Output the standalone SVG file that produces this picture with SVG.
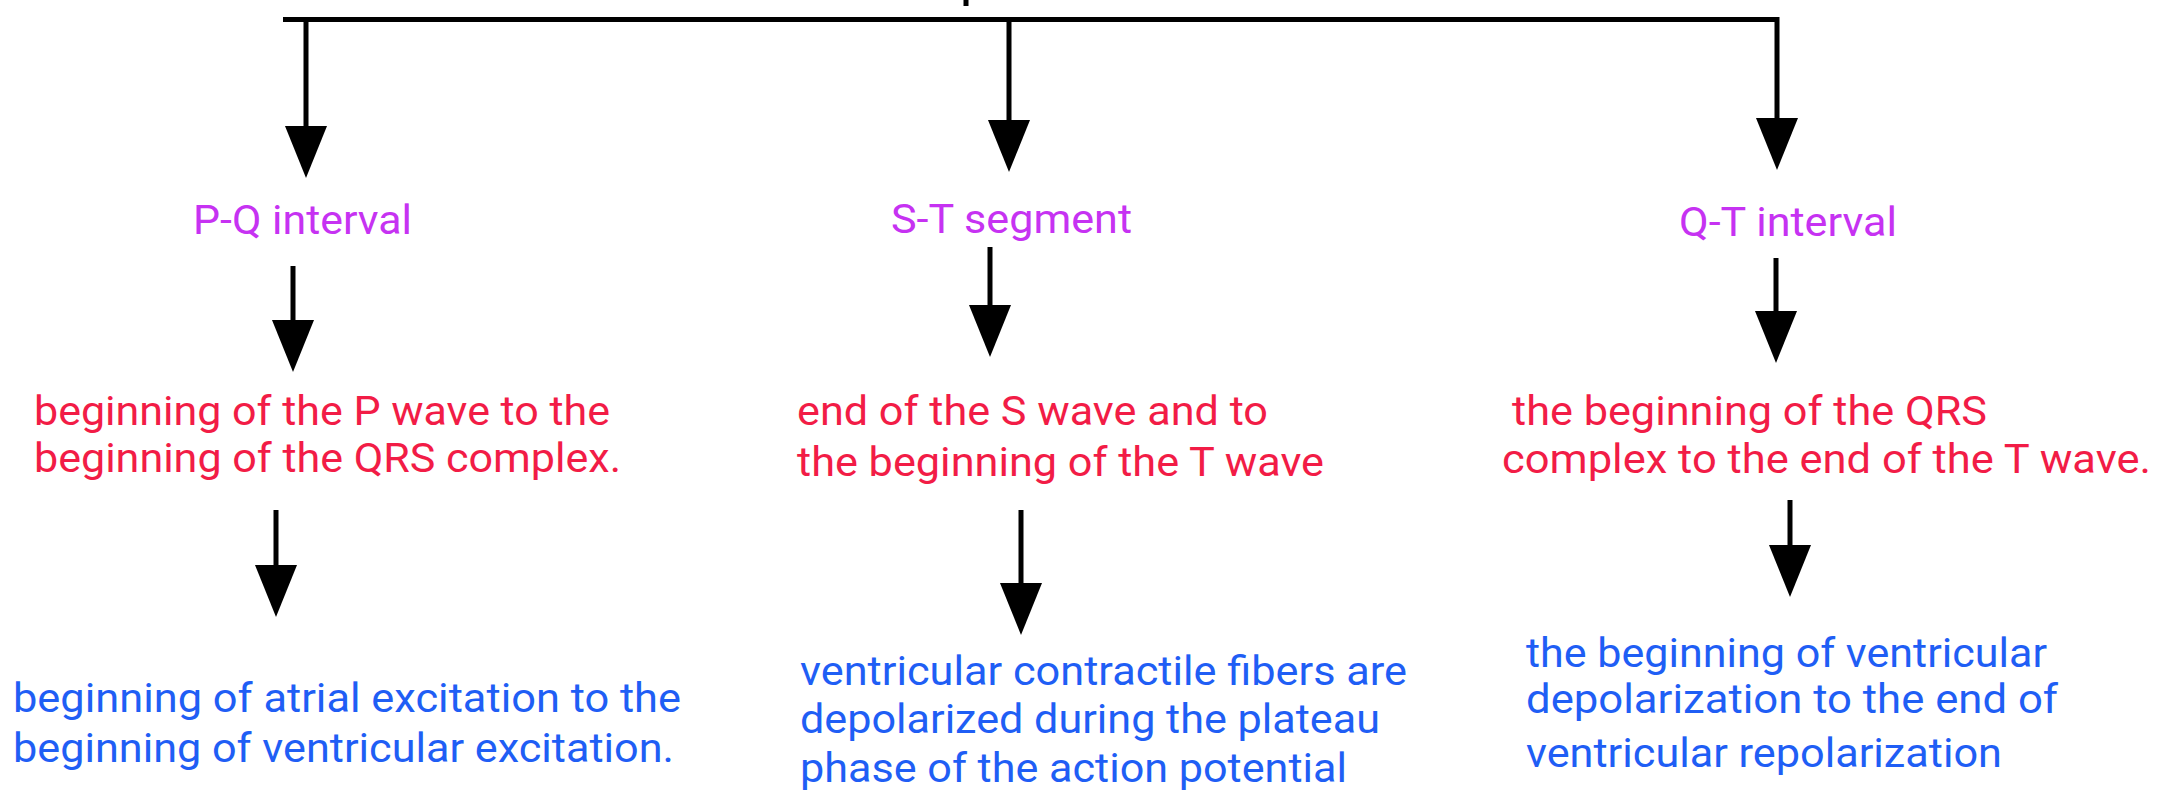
<svg xmlns="http://www.w3.org/2000/svg" width="2177" height="792" viewBox="0 0 2177 792">
<style>
text{font-family:Roboto,"Liberation Sans",Arial,sans-serif;font-size:40px}
.t{fill:#c632f2}
.r{fill:#f21c46}
.b{fill:#1f5ef5}
.c{stroke:#000;stroke-width:5;fill:none}
</style>
<defs>
<marker id="ah" markerUnits="userSpaceOnUse" viewBox="0 -21 52 42" markerWidth="52" markerHeight="42" refX="32" refY="0" orient="auto">
<path d="M0,-21 L52,0 L0,21 z" fill="#000"/>
</marker>
</defs>
<rect width="2177" height="792" fill="#fff"/>
<g id="connectors">
<line class="c" x1="966" y1="0" x2="966" y2="6" stroke-width="4"/>
<polyline class="c" points="283,19.5 1779,19.5"/>
<line class="c" x1="306" y1="19" x2="306" y2="158" marker-end="url(#ah)"/>
<line class="c" x1="1009" y1="19" x2="1009" y2="152" marker-end="url(#ah)"/>
<line class="c" x1="1777" y1="17" x2="1777" y2="150" marker-end="url(#ah)"/>
<line class="c" x1="293" y1="266" x2="293" y2="352" marker-end="url(#ah)"/>
<line class="c" x1="990" y1="247" x2="990" y2="337" marker-end="url(#ah)"/>
<line class="c" x1="1776" y1="258" x2="1776" y2="343" marker-end="url(#ah)"/>
<line class="c" x1="276" y1="510" x2="276" y2="597" marker-end="url(#ah)"/>
<line class="c" x1="1021" y1="510" x2="1021" y2="615" marker-end="url(#ah)"/>
<line class="c" x1="1790" y1="500" x2="1790" y2="577" marker-end="url(#ah)"/>
</g>
<g id="pq-title"><text class="t" x="193" y="234" textLength="219" lengthAdjust="spacingAndGlyphs">P-Q interval</text></g>
<g id="st-title"><text class="t" x="891" y="233" textLength="241" lengthAdjust="spacingAndGlyphs">S-T segment</text></g>
<g id="qt-title"><text class="t" x="1679" y="236" textLength="218" lengthAdjust="spacingAndGlyphs">Q-T interval</text></g>
<g id="pq-red">
<text class="r" x="34" y="425" textLength="576" lengthAdjust="spacingAndGlyphs">beginning of the P wave to the</text>
<text class="r" x="34" y="472" textLength="587" lengthAdjust="spacingAndGlyphs">beginning of the QRS complex.</text>
</g>
<g id="st-red">
<text class="r" x="797" y="425" textLength="471" lengthAdjust="spacingAndGlyphs">end of the S wave and to</text>
<text class="r" x="797" y="476" textLength="527" lengthAdjust="spacingAndGlyphs">the beginning of the T wave</text>
</g>
<g id="qt-red">
<text class="r" x="1512" y="425" textLength="475" lengthAdjust="spacingAndGlyphs">the beginning of the QRS</text>
<text class="r" x="1502" y="473" textLength="649" lengthAdjust="spacingAndGlyphs">complex to the end of the T wave.</text>
</g>
<g id="pq-blue">
<text class="b" x="13" y="712" textLength="668" lengthAdjust="spacingAndGlyphs">beginning of atrial excitation to the</text>
<text class="b" x="13" y="762" textLength="661" lengthAdjust="spacingAndGlyphs">beginning of ventricular excitation.</text>
</g>
<g id="st-blue">
<text class="b" x="800" y="685" textLength="607" lengthAdjust="spacingAndGlyphs">ventricular contractile fibers are</text>
<text class="b" x="800" y="733" textLength="580" lengthAdjust="spacingAndGlyphs">depolarized during the plateau</text>
<text class="b" x="800" y="782" textLength="547" lengthAdjust="spacingAndGlyphs">phase of the action potential</text>
</g>
<g id="qt-blue">
<text class="b" x="1526" y="667" textLength="521" lengthAdjust="spacingAndGlyphs">the beginning of ventricular</text>
<text class="b" x="1526" y="713" textLength="532" lengthAdjust="spacingAndGlyphs">depolarization to the end of</text>
<text class="b" x="1526" y="767" textLength="476" lengthAdjust="spacingAndGlyphs">ventricular repolarization</text>
</g>
</svg>
